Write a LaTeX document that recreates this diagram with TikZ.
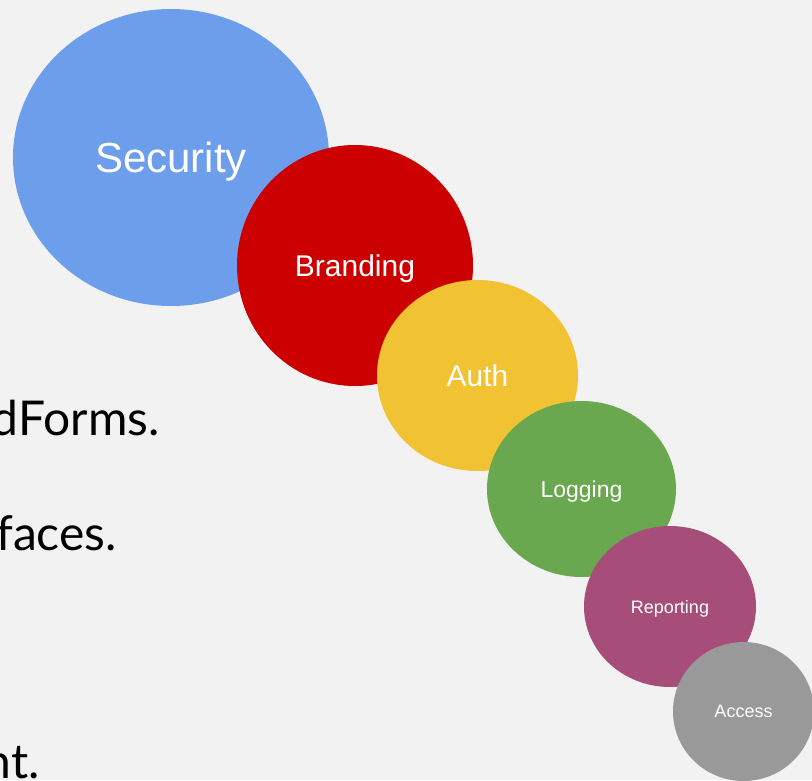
\documentclass[tikz,border=0pt]{standalone}
\usepackage{fontspec}
\setmainfont{Lato}
\newfontfamily\bubblefont{Liberation Sans}
\usetikzlibrary{shapes.geometric}
\definecolor{slidebg}{HTML}{F2F2F2}
\definecolor{securityblue}{HTML}{6D9EEB}
\definecolor{brandingred}{HTML}{CC0000}
\definecolor{authyellow}{HTML}{F1C232}
\definecolor{logginggreen}{HTML}{6AA84F}
\definecolor{reportingpurple}{HTML}{A64D79}
\definecolor{accessgray}{HTML}{999999}
\begin{document}
\begin{tikzpicture}[x=1pt,y=-1pt,
  bubble/.style={ellipse,inner sep=0pt,text=white,text depth=0pt,font=\bubblefont\fontsize{#1}{#1}\selectfont},
  slidetext/.style={anchor=base east,inner sep=0pt,font=\fontsize{48}{58}\selectfont}]
\fill[slidebg] (0,0) rectangle (812,780);
\useasboundingbox (0,0) rectangle (812,780);
\clip (0,0) rectangle (812,780);
\node[slidetext] (forms) at (160,435) {dForms.};
\node[slidetext] (faces) at (117,550) {faces.};
\node[slidetext] (nt) at (40,778) {nt.};
\node[bubble=42,fill=securityblue,minimum width=316pt,minimum height=297pt] (security) at (171,157.5) {Security};
\node[bubble=30,fill=brandingred,minimum width=236pt,minimum height=241pt] (branding) at (355,265.5) {Branding};
\node[bubble=30,fill=authyellow,minimum width=201pt,minimum height=191pt] (auth) at (477.5,375.5) {Auth};
\node[bubble=23,fill=logginggreen,minimum width=189pt,minimum height=176pt] (logging) at (581.5,489) {Logging};
\node[bubble=18,fill=reportingpurple,minimum width=172pt,minimum height=161pt] (reporting) at (670,606.5) {Reporting};
\node[bubble=18,fill=accessgray,minimum width=141pt,minimum height=139pt] (access) at (743.5,711.5) {Access};
\end{tikzpicture}
\end{document}
